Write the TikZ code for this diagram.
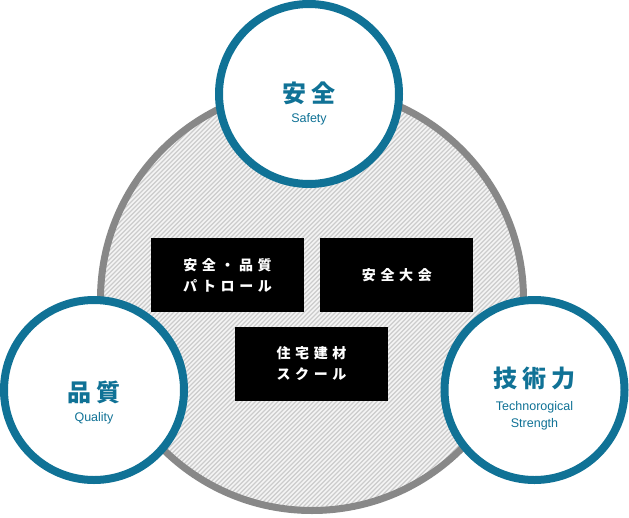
\documentclass[tikz,border=0pt]{standalone}
\usepackage{fontspec}
\setmainfont{Liberation Sans}
\newfontfamily\jpbox[LetterSpace=33]{Noto Sans CJK JP}
\newfontfamily\jptitle[LetterSpace=20]{Noto Sans CJK JP}
\usepackage{tikz}
\usetikzlibrary{positioning}
\definecolor{ringblue}{RGB}{16,114,150}
\definecolor{ringgray}{RGB}{136,136,136}
\definecolor{hatchline}{RGB}{204,204,204}
\definecolor{hatchback}{RGB}{244,244,244}

\tikzset{
  pillar/.style={circle, draw=ringblue, line width=8pt, fill=white,
    minimum size=180pt, inner sep=0pt},
  pillarja/.style={text=ringblue, inner sep=0pt,
    font=\jptitle\bfseries\fontsize{24pt}{26pt}\selectfont},
  pillaren/.style={text=ringblue, inner sep=0pt, align=center,
    font=\fontsize{12.5pt}{17pt}\selectfont},
  activity/.style={fill=black, text=white, minimum width=153pt,
    minimum height=74pt, inner sep=0pt, align=center,
    font=\jpbox\bfseries\fontsize{14pt}{21pt}\selectfont}
}

\begin{document}
\begin{tikzpicture}[x=1pt,y=-1pt]
  \useasboundingbox (0,0) rectangle (629,517);
  % hatched disc
  \fill[hatchback] (312,299) circle (211.5pt);
  \begin{scope}
    \clip (312,299) circle (211.5pt);
    \foreach \i in {0,...,240}
      {
      \draw[hatchline, line width=1.3pt] (-520+4.5*\i,520) -- (4.5*\i,0);
      }
  \end{scope}
  \draw[ringgray, line width=7pt] (312,299) circle (211.5pt);

  % activities
  \node[activity] (patrol) at (227.5,275) {安全・品質\\パトロール};
  \node[activity, right=16pt of patrol] (meeting) {安全大会};
  \node[activity] (school) at (311.5,364) {住宅建材\\スクール};

  % pillars
  \node[pillar] (safety) at (309,94) {};
  \node[pillarja] (safety-ja) at ([yshift=1pt]safety.center) {安全};
  \node[pillaren] (safety-en) at ([yshift=-25pt]safety.center) {Safety};

  \node[pillar] (quality) at (94,390) {};
  \node[pillarja] (quality-ja) at ([yshift=-2pt]quality.center) {品質};
  \node[pillaren] (quality-en) at ([yshift=-28pt]quality.center) {Quality};

  \node[pillar] (tech) at (534.5,390) {};
  \node[pillarja] (tech-ja) at ([yshift=12pt]tech.center) {技術力};
  \node[pillaren] (tech-en) at ([yshift=-26pt]tech.center) {Technorogical\\Strength};
\end{tikzpicture}
\end{document}
